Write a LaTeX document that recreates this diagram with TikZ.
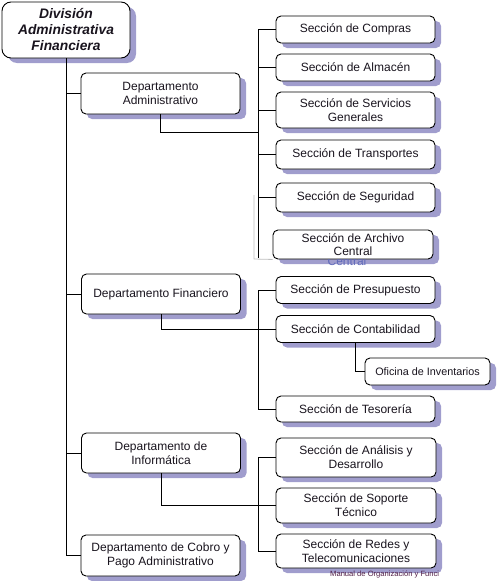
\documentclass[tikz,border=0pt]{standalone}
\usepackage{fontspec}
\setmainfont{Liberation Sans}
\definecolor{shadowc}{RGB}{160,157,205}
\definecolor{ghost}{RGB}{95,105,185}
\definecolor{txt}{RGB}{25,20,30}
\definecolor{footc}{RGB}{80,30,70}
\tikzset{
  x=1pt, y=-1pt,
  box/.style={draw=black, line width=0.9pt, fill=white, rounded corners=5pt,
    align=center, inner sep=1pt, text=txt,
    font=\fontsize{12}{14}\selectfont,
    minimum width=159pt,
    preaction={fill=shadowc, draw=none, transform canvas={shift={(6pt,-5pt)}}}},
  topbox/.style={box, rounded corners=9pt, font=\fontsize{13.8}{16}\selectfont\bfseries\itshape},
  link/.style={line width=0.9pt, draw=black},
  ghostline/.style={line width=0.8pt, draw=black!25}
}
\begin{document}
\begin{tikzpicture}
\useasboundingbox (0,0) rectangle (498,581);
% top
\node[topbox, minimum width=128pt, minimum height=56pt] (top) at (66,30) {División\\Administrativa\\Financiera};
% departments
\node[box, minimum height=41pt] (adm) at (160.5,93.5) {Departamento\\Administrativo};
\node[box, minimum height=40pt] (fin) at (161,294) {Departamento Financiero};
\node[box, minimum height=40pt] (inf) at (161,453) {Departamento de\\Informática};
\node[box, minimum height=41pt] (cob) at (160.5,555.5) {Departamento de Cobro y\\Pago Administrativo};
% admin sections
\coordinate (busA) at (258,258);
\coordinate (admbus) at (258,132);
\node[box, minimum height=27pt] (compras) at (355.5,29.5) {Sección de Compras};
\node[box, minimum height=27pt] (almacen) at (355.5,67.5) {Sección de Almacén};
\node[box, minimum height=36pt] (serv) at (355.5,110) {Sección de Servicios\\Generales};
\node[box, minimum height=29pt] (transp) at (355.5,154.5) {Sección de Transportes};
\node[box, minimum height=29pt] (segur) at (355.5,197.5) {Sección de Seguridad};
\node[box, minimum width=160pt, minimum height=29pt, font=\fontsize{12}{13}\selectfont] (archivo) at (353,244.5) {Sección de Archivo\\Central};
% ghost text showing below archivo box
\begin{scope}
\clip (250,259.6) rectangle (450,275);
\node[text=ghost, font=\fontsize{12}{14}\selectfont] (ghosttxt) at (347,261) {Central};
\end{scope}
% finance sections
\node[box, minimum height=27pt] (presu) at (355.5,290) {Sección de Presupuesto};
\node[box, minimum height=27pt] (conta) at (355.5,329) {Sección de Contabilidad};
\node[box, minimum width=125pt, minimum height=27pt, font=\fontsize{10.8}{12}\selectfont] (inv) at (427.5,371.5) {Oficina de Inventarios};
\node[box, minimum height=26pt] (teso) at (355.5,409) {Sección de Tesorería};
% informatica sections
\node[box, minimum width=160pt, minimum height=39pt] (anal) at (356,457.5) {Sección de Análisis y\\Desarrollo};
\node[box, minimum width=160pt, minimum height=35pt] (sop) at (356,505.5) {Sección de Soporte\\Técnico};
\node[box, minimum width=160pt, minimum height=34pt] (redes) at (356,551) {Sección de Redes y\\Telecomunicaciones};
% footer
\begin{scope}
\clip (320,569) rectangle (438,581);
\node[text=footc, font=\fontsize{7.6}{8}\selectfont, anchor=west, inner sep=0pt] (foot) at (330,574) {Manual de Organización y Funciones};
\end{scope}
% main trunk
\draw[link] (top.south) |- (cob.west);
\draw[link] (top.south |- adm.west) -- (adm.west);
\draw[link] (top.south |- fin.west) -- (fin.west);
\draw[link] (top.south |- inf.west) -- (inf.west);
% admin
\draw[ghostline] (254,195) -- (254,259) -- (archivo.south west);
\draw[link] (adm.south) |- (admbus);
\draw[link] (compras.west) -| (busA);
\draw[link] (busA |- almacen.west) -- (almacen.west);
\draw[link] (busA |- serv.west) -- (serv.west);
\draw[link] (busA |- transp.west) -- (transp.west);
\draw[link] (busA |- segur.west) -- (segur.west);
% finance
\draw[link] (fin.south) |- (conta.west);
\draw[link] (presu.west) -| (258,409) -- (teso.west);
\draw[link] (conta.south) |- (inv.west);
% informatica
\draw[link] (inf.south) |- (sop.west);
\draw[link] (anal.west) -| (258,551) -- (redes.west);
\end{tikzpicture}
\end{document}
